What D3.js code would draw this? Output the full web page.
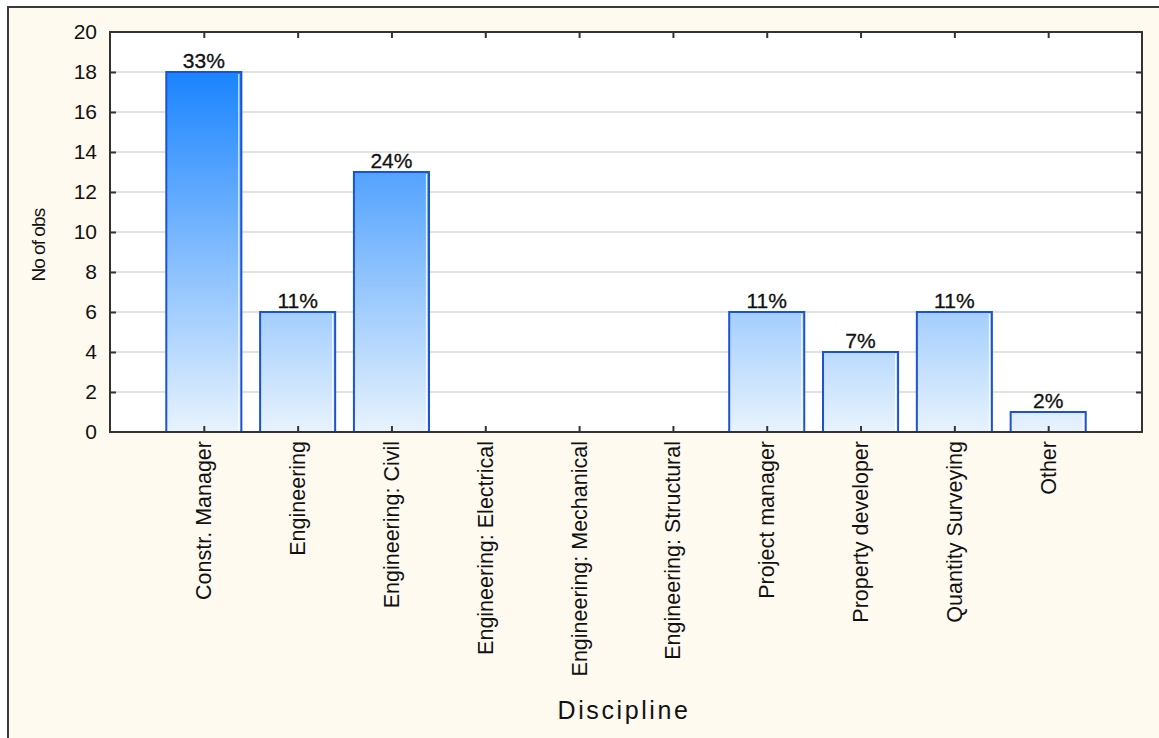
<!DOCTYPE html>
<html>
<head>
<meta charset="utf-8">
<script src="https://cdn.jsdelivr.net/npm/d3@7"></script>
<style>
  html, body { margin: 0; padding: 0; background: #ffffff; }
  svg { display: block; font-family: "Liberation Sans", Arial, sans-serif; }
</style>
</head>
<body>
<svg id="chart" width="1159" height="738"></svg>
<script>
// Observations per discipline
const categories = [
  "Constr. Manager",
  "Engineering",
  "Engineering: Civil",
  "Engineering: Electrical",
  "Engineering: Mechanical",
  "Engineering: Structural",
  "Project manager",
  "Property developer",
  "Quantity Surveying",
  "Other"
];
const counts = [18, 6, 13, 0, 0, 0, 6, 4, 6, 1];
const yTicks = [0, 2, 4, 6, 8, 10, 12, 14, 16, 18, 20];

const svg = d3.select("#chart");
const W = 1159, H = 738;
const plot = { left: 110, top: 32, right: 1142, bottom: 432 };

// Cream frame with a dark edge on the left and top
svg.append("rect").attr("x", 8).attr("y", 7).attr("width", W - 8).attr("height", H - 7)
  .attr("fill", "#fffaf0");
svg.append("path").attr("d", `M8,${H} L8,7 L${W},7`)
  .attr("fill", "none").attr("stroke", "#3a3a3a").attr("stroke-width", 2);

// Scales
const x = d3.scalePoint().domain(categories).range([plot.left, plot.right]).padding(1);
const step = x.step();
const barW = step * 0.8;
const y = d3.scaleLinear().domain([0, 20]).range([plot.bottom, plot.top]);

// Plot background
svg.append("rect").attr("x", plot.left).attr("y", plot.top)
  .attr("width", plot.right - plot.left).attr("height", plot.bottom - plot.top)
  .attr("fill", "#ffffff");

// Vertical blue gradient shared by all bars
const defs = svg.append("defs");
const grad = defs.append("linearGradient").attr("id", "barFill")
  .attr("gradientUnits", "userSpaceOnUse")
  .attr("x1", 0).attr("x2", 0).attr("y1", y(18)).attr("y2", y(0));
grad.append("stop").attr("offset", 0).attr("stop-color", "#1a84ff");
grad.append("stop").attr("offset", 1).attr("stop-color", "#e8f3fd");

// Horizontal gridlines
svg.append("g").selectAll("line").data(yTicks.filter(d => d > 0 && d < 20)).join("line")
  .attr("x1", plot.left).attr("x2", plot.right)
  .attr("y1", d => y(d)).attr("y2", d => y(d))
  .attr("stroke", "#d9d9d9").attr("stroke-width", 1.5);

// Bars
const data = categories.map((c, i) => ({ c, v: counts[i] }));
const total = d3.sum(counts);
const bars = svg.append("g").selectAll("g").data(data.filter(d => d.v > 0)).join("g");
bars.append("rect")
  .attr("x", d => x(d.c) - barW / 2)
  .attr("y", d => y(d.v))
  .attr("width", barW)
  .attr("height", d => y(0) - y(d.v))
  .attr("fill", "url(#barFill)")
  .attr("stroke", "#1c52d4").attr("stroke-width", 2);
bars.append("line")
  .attr("x1", d => x(d.c) + barW / 2 - 2.5).attr("x2", d => x(d.c) + barW / 2 - 2.5)
  .attr("y1", d => y(d.v) + 2).attr("y2", y(0))
  .attr("stroke", "#ffffff").attr("stroke-width", 1.2).attr("opacity", 0.85);

// Percentage labels above bars
bars.append("text")
  .attr("x", d => x(d.c))
  .attr("y", d => y(d.v) - 4)
  .attr("text-anchor", "middle")
  .attr("font-size", 21)
  .attr("fill", "#111")
  .attr("stroke", "#111").attr("stroke-width", 0.3)
  .text(d => Math.round(d.v / total * 100) + "%");

// Axes (ticks pointing into the plot)
const axisColor = "#333";
const axLeft = svg.append("g").attr("transform", `translate(${plot.left},0)`)
  .call(d3.axisLeft(y).tickValues(yTicks).tickSize(-6).tickPadding(13));
const axRight = svg.append("g").attr("transform", `translate(${plot.right},0)`)
  .call(d3.axisRight(y).tickValues(yTicks.filter(d => d > 0 && d < 20)).tickSize(-6).tickFormat(""));
const axBottom = svg.append("g").attr("transform", `translate(0,${plot.bottom})`)
  .call(d3.axisBottom(x).tickSize(-6).tickFormat(""));
const axTop = svg.append("g").attr("transform", `translate(0,${plot.top})`)
  .call(d3.axisTop(x).tickSize(-6).tickFormat(""));

[axLeft, axRight, axBottom, axTop].forEach(g => {
  g.select(".domain").remove();
  g.selectAll(".tick line").attr("stroke", axisColor).attr("stroke-width", 2);
});
axLeft.selectAll(".tick").filter(d => d === 0 || d === 20).select("line").remove();
axLeft.selectAll(".tick text")
  .attr("font-family", "Liberation Sans, Arial, sans-serif")
  .attr("font-size", 21).attr("fill", "#111");

// Plot frame
svg.append("rect").attr("x", plot.left).attr("y", plot.top)
  .attr("width", plot.right - plot.left).attr("height", plot.bottom - plot.top)
  .attr("fill", "none").attr("stroke", axisColor).attr("stroke-width", 2);

// Rotated category labels
svg.append("g").selectAll("text").data(categories).join("text")
  .attr("transform", d => `translate(${x(d)},${plot.bottom + 9}) rotate(-90)`)
  .attr("text-anchor", "end")
  .attr("dy", "0.35em")
  .attr("font-size", 21.5)
  .attr("fill", "#111")
  .text(d => d);

// Axis titles
svg.append("text")
  .attr("transform", "translate(38,245) rotate(-90)")
  .attr("text-anchor", "middle")
  .attr("dy", "0.35em")
  .attr("font-size", 19)
  .attr("letter-spacing", -0.8)
  .attr("word-spacing", -0.5)
  .attr("fill", "#111")
  .text("No of obs");

svg.append("text")
  .attr("x", 624).attr("y", 719)
  .attr("text-anchor", "middle")
  .attr("font-size", 25)
  .attr("letter-spacing", 2.6)
  .attr("fill", "#111")
  .text("Discipline");
</script>
</body>
</html>
